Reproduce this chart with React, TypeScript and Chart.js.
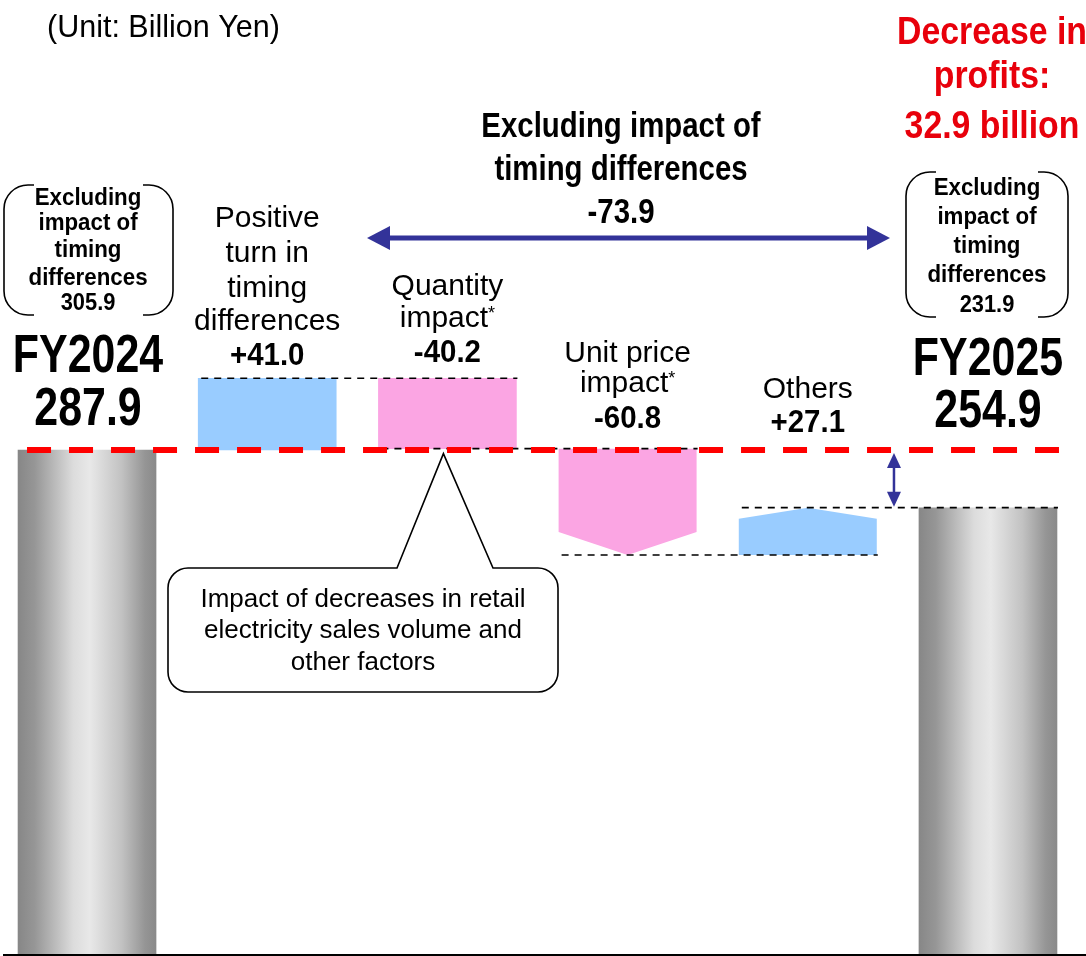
import React, { useEffect, useRef } from "react";
import { Chart, registerables } from "chart.js";

Chart.register(...registerables);

// ---- Data ----
const categories = ["FY2024", "Positive turn in timing differences", "Quantity impact*", "Unit price impact*", "Others", "FY2025"];
const categoryLines: string[][] = [["FY2024"], ["Positive", "turn in", "timing", "differences"], ["Quantity", "impact*"], ["Unit price", "impact*"], ["Others"], ["FY2025"]];
const startValue = 287.9;
const changes = [41.0, -40.2, -60.8, 27.1];
const endValue = 254.9;
const excludingTiming = [305.9, 231.9];
const excludingTimingChange = -73.9;
const profitDecrease = 32.9;
const unitText = "(Unit: Billion Yen)";
const calloutLines = ["Impact of decreases in retail", "electricity sales volume and", "other factors"];
const excludingLines = ["Excluding", "impact of", "timing", "differences"];

// ---- Build waterfall from the arrays ----
const points: { x: number; y: [number, number] }[] = [];
const runEnds: number[] = [startValue];
points.push({ x: 0, y: [0, startValue] });
let run = startValue;
changes.forEach((d, i) => {
  points.push({ x: i + 1, y: [run, run + d] });
  run += d;
  runEnds.push(run);
});
points.push({ x: 5, y: [0, endValue] });

const fmt = (d: number) => (d > 0 ? "+" : "") + d.toFixed(1);

const BLUE = "#99CCFF";
const PINK = "#FBA5E3";
const fillColors = [null, BLUE, PINK, PINK, BLUE, null];
const tipSize = [0, 0, 0, 23, 11, 0];
const FONT = '"Liberation Sans", Arial, Helvetica, sans-serif';

function txt(ctx: CanvasRenderingContext2D, s: string, x: number, y: number, size: number, bold: boolean, color: string, sx = 1, align: CanvasTextAlign = "center") {
  ctx.save();
  ctx.translate(x, y);
  ctx.scale(sx, 1);
  ctx.font = `${bold ? "bold " : ""}${size}px ${FONT}`;
  ctx.fillStyle = color;
  ctx.textAlign = align;
  ctx.textBaseline = "alphabetic";
  ctx.fillText(s, 0, 0);
  ctx.restore();
}

function txtStar(ctx: CanvasRenderingContext2D, s: string, x: number, y: number, size: number) {
  if (!s.endsWith("*")) {
    txt(ctx, s, x, y, size, false, "#000");
    return;
  }
  const main = s.slice(0, -1);
  ctx.save();
  ctx.font = `${size}px ${FONT}`;
  const w1 = ctx.measureText(main).width;
  ctx.font = `${Math.round(size * 0.6)}px ${FONT}`;
  const w2 = ctx.measureText("*").width;
  const x0 = x - (w1 + w2) / 2;
  ctx.fillStyle = "#000";
  ctx.textAlign = "left";
  ctx.textBaseline = "alphabetic";
  ctx.font = `${size}px ${FONT}`;
  ctx.fillText(main, x0, y);
  ctx.font = `${Math.round(size * 0.6)}px ${FONT}`;
  ctx.fillText("*", x0 + w1, y - 8);
  ctx.restore();
}

function arrowHead(ctx: CanvasRenderingContext2D, tx: number, ty: number, dx: number, dy: number, len: number, half: number) {
  const bx = tx - dx * len;
  const by = ty - dy * len;
  const px = -dy;
  const py = dx;
  ctx.beginPath();
  ctx.moveTo(tx, ty);
  ctx.lineTo(bx + px * half, by + py * half);
  ctx.lineTo(bx - px * half, by - py * half);
  ctx.closePath();
  ctx.fill();
}

function bracketPair(ctx: CanvasRenderingContext2D, l: number, r: number, t: number, b: number) {
  const rad = 24;
  const ext = 30;
  ctx.save();
  ctx.strokeStyle = "#000";
  ctx.lineWidth = 1.6;
  ctx.beginPath();
  ctx.moveTo(l + ext, t);
  ctx.arcTo(l, t, l, t + rad, rad);
  ctx.lineTo(l, b - rad);
  ctx.arcTo(l, b, l + ext, b, rad);
  ctx.lineTo(l + ext, b);
  ctx.stroke();
  ctx.beginPath();
  ctx.moveTo(r - ext, t);
  ctx.arcTo(r, t, r, t + rad, rad);
  ctx.lineTo(r, b - rad);
  ctx.arcTo(r, b, r - ext, b, rad);
  ctx.lineTo(r - ext, b);
  ctx.stroke();
  ctx.restore();
}

const decorPlugin = {
  id: "decor",
  afterDatasetsDraw(chart: any) {
    const ctx: CanvasRenderingContext2D = chart.ctx;
    const ys = chart.scales.y;
    const meta = chart.getDatasetMeta(0);
    const els = meta.data.map((e: any) => e.getProps(["x", "y", "base", "width"], true));

    // pointed bars
    els.forEach((e: any, i: number) => {
      if (!tipSize[i]) return;
      const l = e.x - e.width / 2;
      const r = e.x + e.width / 2;
      const top = Math.min(e.y, e.base);
      const bot = Math.max(e.y, e.base);
      const down = points[i].y[1] < points[i].y[0];
      ctx.save();
      ctx.fillStyle = fillColors[i] as string;
      ctx.beginPath();
      if (down) {
        ctx.moveTo(l, top);
        ctx.lineTo(r, top);
        ctx.lineTo(r, bot - tipSize[i]);
        ctx.lineTo(e.x, bot);
        ctx.lineTo(l, bot - tipSize[i]);
      } else {
        ctx.moveTo(l, bot);
        ctx.lineTo(r, bot);
        ctx.lineTo(r, top + tipSize[i]);
        ctx.lineTo(e.x, top);
        ctx.lineTo(l, top + tipSize[i]);
      }
      ctx.closePath();
      ctx.fill();
      ctx.restore();
    });

    // black dashed connectors
    ctx.save();
    ctx.strokeStyle = "#000";
    ctx.lineWidth = 1.6;
    ctx.setLineDash([7, 6]);
    for (let i = 1; i <= 4; i++) {
      const yv = ys.getPixelForValue(runEnds[i]);
      const a = els[i];
      const b = els[i + 1];
      ctx.beginPath();
      ctx.moveTo(a.x - a.width / 2 + 3, yv);
      ctx.lineTo(b.x + b.width / 2 + 1, yv);
      ctx.stroke();
    }
    ctx.restore();

    // red dashed line at FY2024 level
    const yStart = ys.getPixelForValue(startValue);
    ctx.save();
    ctx.strokeStyle = "#FF0000";
    ctx.lineWidth = 6;
    ctx.setLineDash([24, 18]);
    ctx.beginPath();
    ctx.moveTo(els[0].x - els[0].width / 2 + 9, yStart);
    ctx.lineTo(els[5].x + els[5].width / 2 + 2, yStart);
    ctx.stroke();
    ctx.restore();

    // small double arrow
    const yEnd = ys.getPixelForValue(endValue);
    const ax = els[5].x - els[5].width / 2 - 25;
    ctx.save();
    ctx.strokeStyle = "#333399";
    ctx.fillStyle = "#333399";
    ctx.lineWidth = 2.5;
    ctx.beginPath();
    ctx.moveTo(ax, yStart + 12);
    ctx.lineTo(ax, yEnd - 12);
    ctx.stroke();
    arrowHead(ctx, ax, yStart + 3, 0, -1, 15, 7);
    arrowHead(ctx, ax, yEnd - 1, 0, 1, 15, 7);
    ctx.restore();

    // big double arrow
    const ay = 238;
    const ax1 = 367;
    const ax2 = 890;
    ctx.save();
    ctx.strokeStyle = "#333399";
    ctx.fillStyle = "#333399";
    ctx.lineWidth = 5;
    ctx.beginPath();
    ctx.moveTo(ax1 + 15, ay);
    ctx.lineTo(ax2 - 15, ay);
    ctx.stroke();
    arrowHead(ctx, ax1, ay, -1, 0, 23, 12);
    arrowHead(ctx, ax2, ay, 1, 0, 23, 12);
    ctx.restore();

    // baseline
    const y0 = ys.getPixelForValue(0);
    ctx.save();
    ctx.strokeStyle = "#000";
    ctx.lineWidth = 2;
    ctx.beginPath();
    ctx.moveTo(3, y0 + 1);
    ctx.lineTo(chart.width, y0 + 1);
    ctx.stroke();
    ctx.restore();

    // callout
    const cl = 168, cr = 558, ct = 568, cb = 692, rad = 20;
    const tipX = els[2].x - 4;
    const tipY = ys.getPixelForValue(runEnds[2]) + 5;
    ctx.save();
    ctx.fillStyle = "#fff";
    ctx.strokeStyle = "#000";
    ctx.lineWidth = 1.6;
    ctx.beginPath();
    ctx.moveTo(cl + rad, ct);
    ctx.lineTo(397, ct);
    ctx.lineTo(tipX, tipY);
    ctx.lineTo(493, ct);
    ctx.lineTo(cr - rad, ct);
    ctx.arcTo(cr, ct, cr, ct + rad, rad);
    ctx.lineTo(cr, cb - rad);
    ctx.arcTo(cr, cb, cr - rad, cb, rad);
    ctx.lineTo(cl + rad, cb);
    ctx.arcTo(cl, cb, cl, cb - rad, rad);
    ctx.lineTo(cl, ct + rad);
    ctx.arcTo(cl, ct, cl + rad, ct, rad);
    ctx.closePath();
    ctx.fill();
    ctx.stroke();
    ctx.restore();
    const ccx = 363;
    [607, 638, 670].forEach((by, k) => txt(ctx, calloutLines[k], ccx, by, 26, false, "#000"));

    // unit text
    txt(ctx, unitText, 47, 37, 30.5, false, "#000", 1.0, "left");

    // red headline
    const red = "#E8000B";
    txt(ctx, "Decrease in", 992, 44, 38, true, red, 0.89);
    txt(ctx, "profits:", 992, 88, 38, true, red, 0.89);
    txt(ctx, `${profitDecrease.toFixed(1)} billion`, 992, 138, 38, true, red, 0.89);

    // center headline
    txt(ctx, "Excluding impact of", 621, 137, 35, true, "#000", 0.84);
    txt(ctx, "timing differences", 621, 180, 35, true, "#000", 0.84);
    txt(ctx, excludingTimingChange.toFixed(1), 621, 223, 35, true, "#000", 0.84);

    // bracket boxes
    bracketPair(ctx, 4, 173, 185, 315);
    bracketPair(ctx, 906, 1068, 172, 317);
    const lb = [205, 230, 257, 285, 310];
    const rb = [195, 224, 253, 282, 312];
    const lx = els[0].x + 1;
    const rx = els[5].x - 1;
    excludingLines.forEach((s, k) => {
      txt(ctx, s, lx, lb[k], 23, true, "#000", 0.97);
      txt(ctx, s, rx, rb[k], 23, true, "#000", 0.97);
    });
    txt(ctx, excludingTiming[0].toFixed(1), lx, lb[4], 23, true, "#000", 0.95);
    txt(ctx, excludingTiming[1].toFixed(1), rx, rb[4], 23, true, "#000", 0.95);

    // FY labels
    txt(ctx, categoryLines[0][0], els[0].x + 1, 372, 53, true, "#000", 0.81);
    txt(ctx, startValue.toFixed(1), els[0].x + 1, 425, 53, true, "#000", 0.81);
    txt(ctx, categoryLines[5][0], els[5].x, 375, 53, true, "#000", 0.81);
    txt(ctx, endValue.toFixed(1), els[5].x, 427, 53, true, "#000", 0.81);

    // change labels
    const lineBases = [[], [227, 262, 297, 330], [295, 327], [362, 392], [398], []];
    const valueBase = [0, 365, 362, 428, 432, 0];
    for (let i = 1; i <= 4; i++) {
      const cx = els[i].x;
      categoryLines[i].forEach((s, k) => txtStar(ctx, s, cx, lineBases[i][k], 30));
      txt(ctx, fmt(changes[i - 1]), cx, valueBase[i], 32, true, "#000", 0.92);
    }
  },
};

export default function App() {
  const ref = useRef<HTMLCanvasElement | null>(null);
  useEffect(() => {
    if (!ref.current) return;
    const chart = new Chart(ref.current, {
      type: "bar",
      data: {
        labels: categories,
        datasets: [
          {
            data: points as any,
            borderWidth: 0,
            barThickness: 138,
            backgroundColor: (c: any) => {
              const i = c.dataIndex;
              if (i === 0 || i === 5) {
                const chart = c.chart;
                const xs = chart.scales && chart.scales.x;
                if (!xs) return "#bbb";
                const cx = xs.getPixelForValue(i);
                if (!Number.isFinite(cx)) return "#bbb";
                const g = chart.ctx.createLinearGradient(cx - 69, 0, cx + 69, 0);
                g.addColorStop(0, "#878787");
                g.addColorStop(0.12, "#969696");
                g.addColorStop(0.4, "#dcdcdc");
                g.addColorStop(0.52, "#e8e8e8");
                g.addColorStop(0.75, "#c2c2c2");
                g.addColorStop(0.92, "#959595");
                g.addColorStop(1, "#8a8a8a");
                return g;
              }
              if (tipSize[i]) return "rgba(0,0,0,0)";
              return fillColors[i];
            },
          } as any,
        ],
      },
      options: {
        animation: false,
        responsive: false,
        maintainAspectRatio: false,
        layout: { padding: { left: 0, right: 0, top: 0, bottom: 2 } },
        plugins: { legend: { display: false }, tooltip: { enabled: false } },
        scales: {
          x: { type: "linear", min: -0.483, max: 5.544, offset: false, display: false },
          y: { min: 0, max: 545, display: false },
        },
      },
      plugins: [decorPlugin],
    });
    return () => chart.destroy();
  }, []);
  return (
    <div style={{ position: "absolute", left: 0, top: 0, width: 1086, height: 956, background: "#fff" }}>
      <canvas ref={ref} width={1086} height={956} style={{ display: "block" }} />
    </div>
  );
}
